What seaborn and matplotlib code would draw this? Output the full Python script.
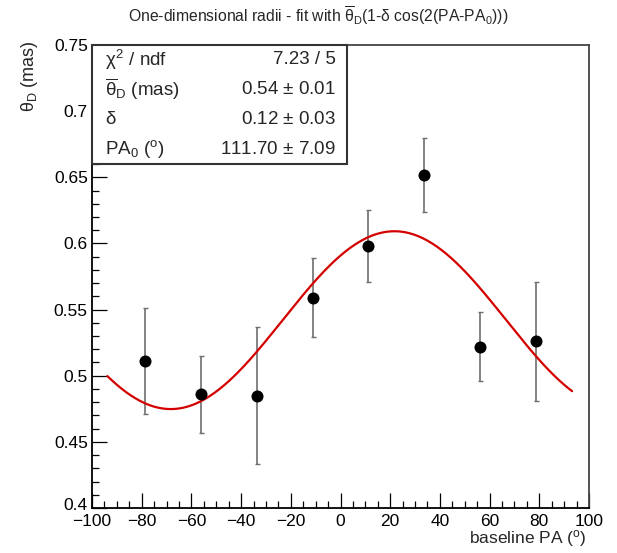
import numpy as np
import pandas as pd
import matplotlib
matplotlib.use("Agg")
import matplotlib.pyplot as plt
from matplotlib.patches import Rectangle
from matplotlib.ticker import MultipleLocator
import matplotlib.transforms as mtrans
import seaborn as sns

# ---- data ----
baseline_pa = [-78.75, -56.25, -33.75, -11.25, 11.25, 33.75, 56.25, 78.75]
theta_d = [0.511, 0.486, 0.485, 0.559, 0.598, 0.652, 0.522, 0.526]
theta_err = [0.040, 0.029, 0.052, 0.030, 0.027, 0.028, 0.026, 0.045]

# fit parameters (curve as drawn in the reference; box shows rounded values)
fit_theta = 0.542
fit_delta = 0.124
fit_pa0 = 111.70
fit_range = [-93.8, 93.2]

stat_labels = [r"$\chi^{2}$ / ndf", r"$\overline{\mathrm{\theta}}_{\mathrm{D}}$ (mas)", r"$\delta$", r"PA$_{0}$ ($^{\mathrm{o}}$)"]
stat_values = ["7.23 / 5", "0.54 $\\pm$ 0.01", "0.12 $\\pm$ 0.03", "111.70 $\\pm$ 7.09"]

title = r"One-dimensional radii - fit with $\overline{\mathrm{\theta}}_{\mathrm{D}}$(1-$\delta$ cos(2(PA-PA$_{0}$)))"
xlabel = r"baseline PA ($^{\mathrm{o}}$)"
ylabel = r"$\mathrm{\theta}_{\mathrm{D}}$ (mas)"
yticks = [0.4, 0.45, 0.5, 0.55, 0.6, 0.65, 0.7, 0.75]
ytick_labels = ["0.4", "0.45", "0.5", "0.55", "0.6", "0.65", "0.7", "0.75"]
xticks = [-100, -80, -60, -40, -20, 0, 20, 40, 60, 80, 100]
xtick_labels = ["\u2212100", "\u221280", "\u221260", "\u221240", "\u221220", "0", "20", "40", "60", "80", "100"]

sns.set_theme(style="white")
plt.rcParams["font.family"] = ["Liberation Sans", "DejaVu Sans"]
plt.rcParams["mathtext.fontset"] = "custom"
plt.rcParams["mathtext.rm"] = "Liberation Sans"
plt.rcParams["mathtext.it"] = "Liberation Sans"
plt.rcParams["mathtext.bf"] = "Liberation Sans:bold"

W, H = 617, 553
fig = plt.figure(figsize=(W / 100, H / 100), dpi=100)
L, R, T, B = 92, 589, 45, 508
ax = fig.add_axes([L / W, 1 - B / H, (R - L) / W, (B - T) / H])

df = pd.DataFrame({"pa": baseline_pa, "theta": theta_d, "err": theta_err})

# fit curve
xs = np.linspace(fit_range[0], fit_range[1], 300)
ys = fit_theta * (1 - fit_delta * np.cos(np.deg2rad(2 * (xs - fit_pa0))))
fit_df = pd.DataFrame({"pa": xs, "theta": ys})

ax.errorbar(df["pa"], df["theta"], yerr=df["err"], fmt="none", ecolor="#6e6e6e",
            elinewidth=1.2, capsize=1.8, capthick=1.0, zorder=2)
sns.lineplot(data=fit_df, x="pa", y="theta", ax=ax, color="#d40000", lw=1.6, zorder=3)
sns.scatterplot(data=df, x="pa", y="theta", ax=ax, color="black", s=75,
                edgecolor="black", linewidth=0, zorder=4)

ax.set_xlim(-100, 100)
ax.set_ylim(0.4, 0.75)
ax.xaxis.set_minor_locator(MultipleLocator(5))
ax.yaxis.set_minor_locator(MultipleLocator(0.01))
ax.set_yticks(yticks)
ax.set_yticklabels(ytick_labels)
ax.set_xticks(xticks)
ax.set_xticklabels(xtick_labels)
ax.tick_params(axis="both", which="both", direction="in", bottom=True, left=True,
               top=False, right=False, labelsize=12.5, colors="black")
ax.tick_params(axis="x", which="major", length=11, width=0.9, pad=4)
ax.tick_params(axis="x", which="minor", length=5, width=0.9)
ax.tick_params(axis="y", which="major", length=11, width=0.9, pad=3)
ax.tick_params(axis="y", which="minor", length=5, width=0.9)
for sp in ax.spines.values():
    sp.set_color("black")
    sp.set_linewidth(1.3)
ax.spines["right"].set_color("#444444")
ax.spines["top"].set_color("#444444")
ax.set_xlabel("")
ax.set_ylabel("")

# nudge the lowest y label up a little, as in the reference
lbl0 = ax.get_yticklabels()[0]
lbl0.set_transform(lbl0.get_transform() + mtrans.ScaledTranslation(0, 3 / 72, fig.dpi_scale_trans))

# axis labels and title
fig.text(586 / W, 1 - 538 / H, xlabel, ha="right", va="center", fontsize=12.5)
fig.text(30 / W, 1 - 40 / H, ylabel, ha="center", va="top", rotation=90, fontsize=13)
fig.text(318 / W, 1 - 16 / H, title, ha="center", va="center", fontsize=11.3)

# stats box
bx0, by0, bx1, by1 = 92, 45, 347, 164
fig.patches.append(Rectangle((bx0 / W, 1 - by1 / H), (bx1 - bx0) / W, (by1 - by0) / H,
                             transform=fig.transFigure, facecolor="white",
                             edgecolor="#333333", lw=1.5, zorder=5))
row_h = (by1 - by0) / 4
for i, (lab, val) in enumerate(zip(stat_labels, stat_values)):
    yc = by0 + row_h * (i + 0.5)
    fig.text(105 / W, 1 - yc / H, lab, ha="left", va="center", fontsize=13.5, zorder=6)
    fig.text(336 / W, 1 - yc / H, val, ha="right", va="center", fontsize=13.5, zorder=6)

fig.savefig("out.png", dpi=100, facecolor="white")
